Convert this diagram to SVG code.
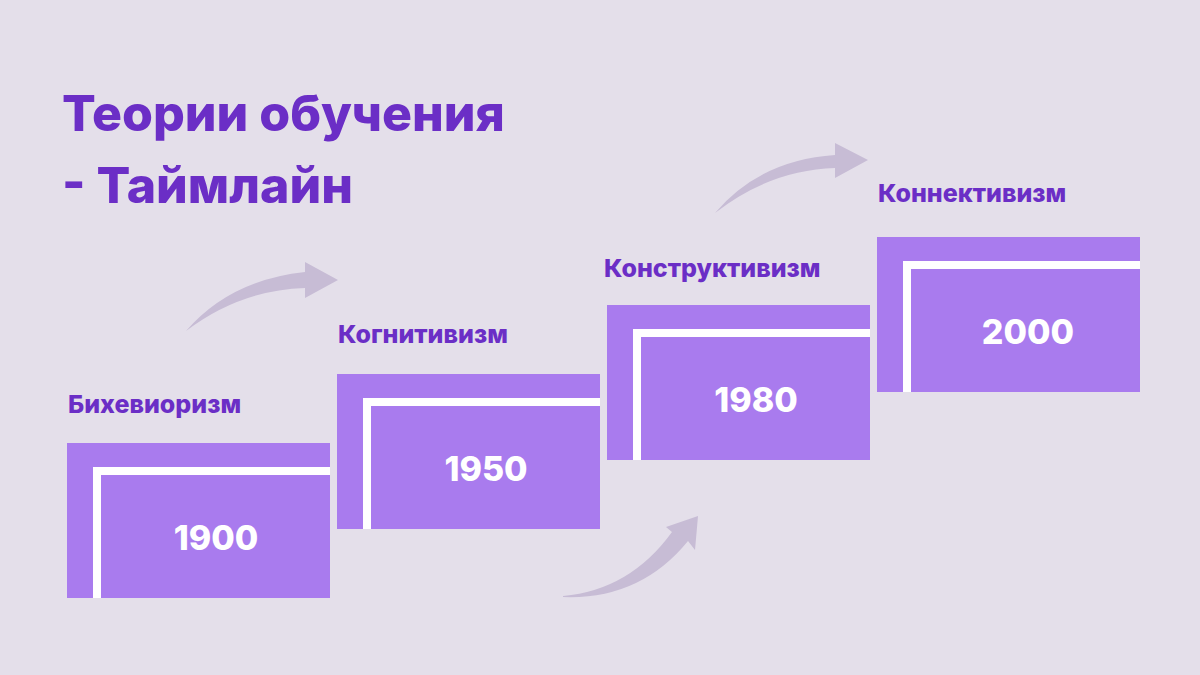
<svg xmlns="http://www.w3.org/2000/svg" width="1200" height="675" viewBox="0 0 1200 675">
<style>
.t{font-family:Inter,"Open Sans","Liberation Sans",sans-serif;font-weight:800;fill:#6b2ec6}
.lbl{font-size:25px}
.num{font-family:Inter,"Open Sans","Liberation Sans",sans-serif;font-weight:800;font-size:34px;fill:#fff;text-anchor:middle}
.box{fill:#a97bee}
.arr{fill:#c7bcd5}
</style>
<defs>
<g id="card">
<rect class="box" x="0" y="0" width="263" height="155"/>
<rect fill="#fff" x="26" y="24" width="8" height="131"/>
<rect fill="#fff" x="26" y="24" width="237" height="8"/>
</g>
</defs>
<rect width="1200" height="675" fill="#e4dfea"/>
<text class="t" x="62" y="131" font-size="50">Теории обучения</text>
<text class="t" x="62" y="203" font-size="50">- Таймлайн</text>
<g id="connectors">
<path class="arr" d="M186,331 Q230,280 305,272 L305,262 L338,280 L305,298 L305,288 Q240,290 186,331 Z"/>
<path class="arr" d="M563,596 Q630,590 672,532 L666,527 L698,516 L695,550 L688,541 Q640,600 563,597 Z"/>
<path class="arr" d="M715,213 Q760,160 835,155 L835,143 L868,160 L835,178 L835,168 Q770,170 715,213 Z"/>
</g>
<g id="n1"><use href="#card" x="67" y="443"/><text class="t lbl" x="68" y="413">Бихевиоризм</text><text class="num" x="216" y="550">1900</text></g>
<g id="n2"><use href="#card" x="337" y="374"/><text class="t lbl" x="338" y="343">Когнитивизм</text><text class="num" x="486" y="481">1950</text></g>
<g id="n3"><use href="#card" x="607" y="305"/><text class="t lbl" x="604" y="277">Конструктивизм</text><text class="num" x="756" y="412">1980</text></g>
<g id="n4"><use href="#card" x="877" y="237"/><text class="t lbl" x="878" y="202">Коннективизм</text><text class="num" x="1028" y="344">2000</text></g>
</svg>
